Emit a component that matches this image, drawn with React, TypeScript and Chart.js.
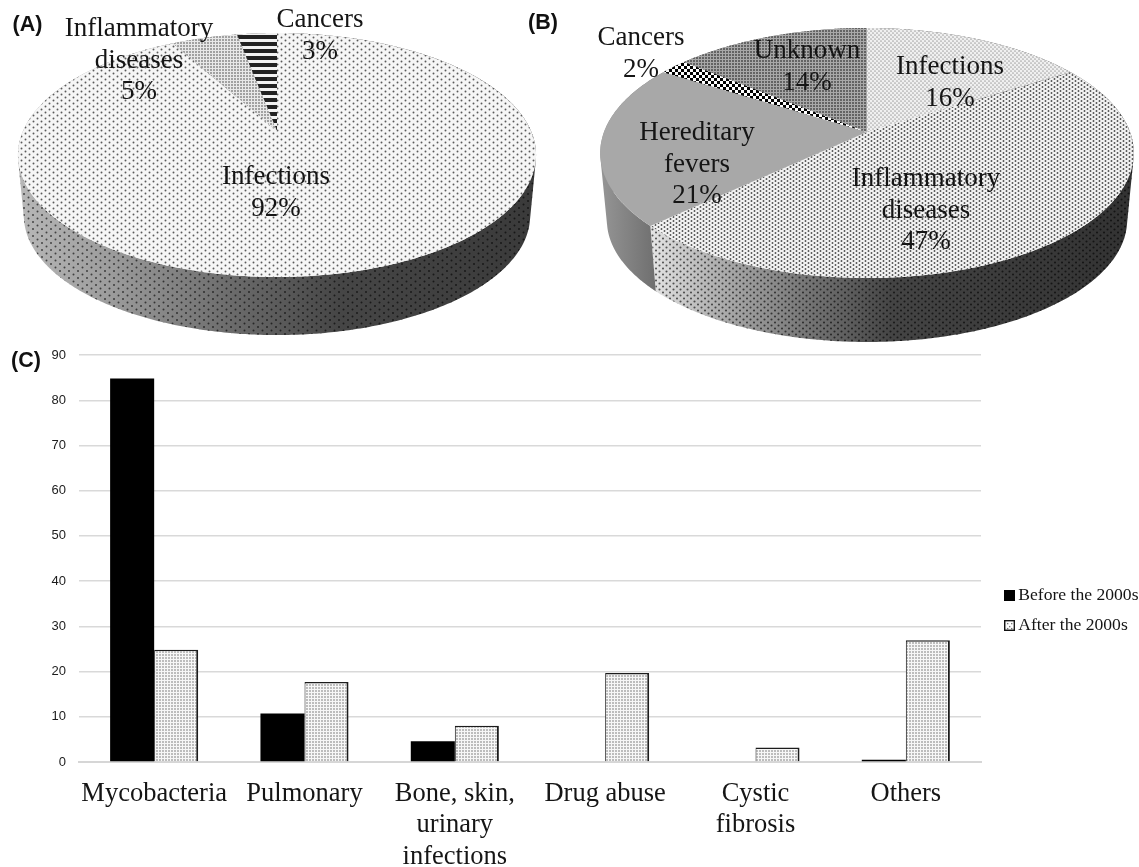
import React, { useEffect, useRef } from "react";
import { Chart, registerables } from "chart.js";

Chart.register(...registerables);

// ---- data ----
const pieACategories = [["Infections"], ["Inflammatory", "diseases"], ["Cancers"]];
const pieAValues = [92, 5, 3];
const pieBCategories = [["Infections"], ["Inflammatory", "diseases"], ["Hereditary", "fevers"], ["Cancers"], ["Unknown"]];
const pieBValues = [16, 47, 21, 2, 14];
const barCategories = ["Mycobacteria", "Pulmonary", ["Bone, skin,", "urinary", "infections"], "Drug abuse", ["Cystic", "fibrosis"], "Others"];
const beforeValues = [84.8, 10.7, 4.6, 0, 0, 0.5];
const afterValues = [24.8, 17.7, 8, 19.7, 3.2, 26.9];
const seriesNames = ["Before the 2000s", "After the 2000s"];

// ---- styling helpers ----
const SERIF = '"Liberation Serif"';
const SANS = '"Liberation Sans"';
const INK = "#151515";

function tile(w: number, h: number, paint: (c: CanvasRenderingContext2D) => void) {
  const cv = document.createElement("canvas");
  cv.width = w;
  cv.height = h;
  paint(cv.getContext("2d")!);
  return cv;
}
function dots(w: number, h: number, bg: string | null, ink: string, pts: number[][], size: number) {
  return tile(w, h, (c) => {
    if (bg) {
      c.fillStyle = bg;
      c.fillRect(0, 0, w, h);
    }
    c.fillStyle = ink;
    pts.forEach(([x, y]) => {
      c.beginPath();
      c.arc(x, y, size, 0, Math.PI * 2);
      c.fill();
    });
  });
}

type Geo = { cx: number; y0: number; a: number; b: number; k: number };
const project = (g: Geo, t: number) => {
  const u = Math.cos(t);
  const v = Math.sin(t);
  const w = 1 - g.k * v;
  return [g.cx + (g.a * u) / w, g.y0 + (g.b * v) / w];
};
type WallStyle = { stops: [number, string][]; x0: number; x1: number; dots?: HTMLCanvasElement | null };
type PieCfg = {
  geo: Geo;
  base: Geo;
  faces: any[];
  walls: WallStyle[];
  categories: string[][];
  anchors: { x: number; y: number }[];
  tag: { text: string; x: number; y: number };
};

function perspectivePie(cfg: PieCfg) {
  return {
    id: "perspectivePie",
    afterDatasetsDraw(chart: any) {
      const { ctx } = chart;
      const arcs = chart.getDatasetMeta(0).data;
      const sample = (g: Geo, s: number, e: number) => {
        const n = Math.max(2, Math.ceil((e - s) / 0.01));
        const out: number[][] = [];
        for (let i = 0; i <= n; i++) out.push(project(g, s + ((e - s) * i) / n));
        return out;
      };
      ctx.save();
      // side walls first: one consistently wound quad per angle step, so the union has no holes
      arcs.forEach((arc: any, i: number) => {
        const { startAngle: s, endAngle: e } = arc;
        const top = sample(cfg.geo, s, e);
        const bot = sample(cfg.base, s, e);
        const path = new Path2D();
        for (let j = 0; j + 1 < top.length; j++) {
          const q = [top[j], top[j + 1], bot[j + 1], bot[j]];
          let area = 0;
          q.forEach((p, m) => {
            const r = q[(m + 1) % 4];
            area += p[0] * r[1] - r[0] * p[1];
          });
          if (area < 0) q.reverse();
          q.forEach(([x, y], m) => (m ? path.lineTo(x, y) : path.moveTo(x, y)));
          path.closePath();
        }
        const st = cfg.walls[i];
        const grad = ctx.createLinearGradient(st.x0, 0, st.x1, 0);
        st.stops.forEach(([o, col]) => grad.addColorStop(o, col));
        ctx.fillStyle = grad;
        ctx.fill(path);
        if (st.dots) {
          ctx.fillStyle = ctx.createPattern(st.dots, "repeat");
          ctx.fill(path);
        }
      });
      arcs.forEach((arc: any, i: number) => {
        const { startAngle: s, endAngle: e } = arc;
        const path = new Path2D();
        path.moveTo(cfg.geo.cx, cfg.geo.y0);
        sample(cfg.geo, s, e).forEach(([x, y]) => path.lineTo(x, y));
        path.closePath();
        const f = cfg.faces[i];
        ctx.fillStyle = typeof f === "string" ? f : ctx.createPattern(f, "repeat");
        ctx.fill(path);
      });
      // slice labels
      ctx.fillStyle = INK;
      ctx.textAlign = "center";
      ctx.textBaseline = "alphabetic";
      ctx.font = `27px ${SERIF}`;
      const values = chart.data.datasets[0].data;
      cfg.categories.forEach((lines, i) => {
        [...lines, `${values[i]}%`].forEach((ln, j) => {
          ctx.fillText(ln, cfg.anchors[i].x, cfg.anchors[i].y + j * 31.5);
        });
      });
      ctx.textAlign = "left";
      ctx.font = `bold 21.5px ${SANS}`;
      ctx.fillStyle = "#111";
      ctx.fillText(cfg.tag.text, cfg.tag.x, cfg.tag.y);
      ctx.restore();
    },
  };
}

function pieConfig(values: number[], names: string[][], cfg: PieCfg): any {
  return {
    type: "pie",
    data: {
      labels: names.map((n) => n.join(" ")),
      datasets: [{ data: values, backgroundColor: "rgba(0,0,0,0)", borderWidth: 0 }],
    },
    options: {
      animation: false,
      responsive: false,
      events: [],
      plugins: { legend: { display: false }, tooltip: { enabled: false } },
    },
    plugins: [perspectivePie(cfg)],
  };
}

const CV: React.CSSProperties = { position: "absolute", left: 0, top: 0, width: 1139, height: 867, filter: "blur(0.35px)" };

export default function App() {
  const a = useRef<HTMLCanvasElement>(null);
  const b = useRef<HTMLCanvasElement>(null);
  const c = useRef<HTMLCanvasElement>(null);

  useEffect(() => {
    document.body.style.margin = "0";
    document.body.style.background = "#fff";

    const wallDots = dots(9, 7, null, "rgba(0,0,0,0.62)", [[1.5, 1.5], [6, 5]], 1);
    const wallDotsDense = dots(7, 6, null, "rgba(0,0,0,0.62)", [[1.5, 1.5], [5, 4.5]], 1.05);

    const geoA: Geo = { cx: 277, y0: 131, a: 254, b: 117.3, k: 0.1967 };
    const baseA: Geo = { cx: 277, y0: 192.4, a: 254 * 0.977, b: 117.3 * 0.977, k: 0.1967 };
    const cfgA: PieCfg = {
      geo: geoA,
      base: baseA,
      faces: [
        dots(8, 6, "#f6f6f6", "#5a5a5a", [[1.5, 1.5], [5.5, 4.5]], 0.95),
        dots(3, 3, "#e8e8e8", "#8a8a8a", [[1, 1]], 1),
        tile(4, 7, (x) => {
          x.fillStyle = "#f2f2f2";
          x.fillRect(0, 0, 4, 7);
          x.fillStyle = "#222";
          x.fillRect(0, 0, 4, 4);
        }),
      ],
      walls: [
        { x0: 18, x1: 536, stops: [[0, "#b8b8b8"], [0.18, "#9c9c9c"], [0.42, "#6a6a6a"], [0.62, "#464646"], [1, "#3a3a3a"]], dots: wallDots },
        { x0: 18, x1: 536, stops: [[0, "#999"], [1, "#999"]] },
        { x0: 18, x1: 536, stops: [[0, "#555"], [1, "#555"]] },
      ],
      categories: pieACategories,
      anchors: [{ x: 276, y: 184 }, { x: 139, y: 36 }, { x: 320, y: 27 }],
      tag: { text: "(A)", x: 12.5, y: 31 },
    };

    const geoB: Geo = { cx: 867, y0: 132, a: 263, b: 121.5, k: 0.168 };
    const baseB: Geo = { cx: 867, y0: 199.6, a: 263 * 0.975, b: 121.5 * 0.975, k: 0.168 };
    const cfgB: PieCfg = {
      geo: geoB,
      base: baseB,
      faces: [
        dots(4, 4, "#f0f0f0", "#a8a8a8", [[1, 1], [3, 3]], 0.85),
        dots(6, 4, "#f2f2f2", "#505050", [[1.5, 1], [4.5, 3]], 0.95),
        "#a8a8a8",
        tile(6, 6, (x) => {
          x.fillStyle = "#fff";
          x.fillRect(0, 0, 6, 6);
          x.fillStyle = "#000";
          x.fillRect(0, 0, 3, 3);
          x.fillRect(3, 3, 3, 3);
        }),
        dots(3, 3, "#a8a8a8", "#4c4c4c", [[1, 1]], 1),
      ],
      walls: [
        { x0: 900, x1: 1134, stops: [[0, "#444"], [1, "#333"]] },
        { x0: 652, x1: 1134, stops: [[0, "#e4e4e4"], [0.12, "#b4b4b4"], [0.3, "#7c7c7c"], [0.5, "#444"], [1, "#323232"]], dots: wallDotsDense },
        { x0: 600, x1: 657, stops: [[0, "#969696"], [1, "#6e6e6e"]] },
        { x0: 600, x1: 657, stops: [[0, "#777"], [1, "#777"]] },
        { x0: 600, x1: 657, stops: [[0, "#777"], [1, "#777"]] },
      ],
      categories: pieBCategories,
      anchors: [{ x: 950, y: 74 }, { x: 926, y: 186 }, { x: 697, y: 140 }, { x: 641, y: 45 }, { x: 807, y: 58 }],
      tag: { text: "(B)", x: 528, y: 29 },
    };

    const chartA = new Chart(a.current!, pieConfig(pieAValues, pieACategories, cfgA));
    const chartB = new Chart(b.current!, pieConfig(pieBValues, pieBCategories, cfgB));

    const barDots = dots(3, 3, "#f7f7f7", "#666", [[1, 1]], 0.75);
    const swatchBefore = tile(11, 11, (x) => {
      x.fillStyle = "#000";
      x.fillRect(0, 0, 11, 11);
    });
    const swatchAfter = tile(11, 11, (x) => {
      x.fillStyle = "#fff";
      x.fillRect(0, 0, 11, 11);
      x.fillStyle = "#666";
      [[3, 3], [7, 3], [5, 6], [3, 8], [7, 8]].forEach(([px, py]) => x.fillRect(px, py, 1.3, 1.3));
      x.strokeStyle = "#111";
      x.lineWidth = 1.4;
      x.strokeRect(0.7, 0.7, 9.6, 9.6);
    });

    const chartC = new Chart(c.current!, {
      type: "bar",
      data: {
        labels: barCategories as any,
        datasets: [
          { label: seriesNames[0], data: beforeValues, backgroundColor: "#000", borderWidth: 0 },
          {
            label: seriesNames[1],
            data: afterValues,
            backgroundColor: c.current!.getContext("2d")!.createPattern(barDots, "repeat") as any,
            borderColor: "#1c1c1c",
            borderWidth: { top: 1.5, left: 1, right: 2, bottom: 0 },
          },
        ],
      },
      options: {
        animation: false,
        responsive: false,
        events: [],
        layout: { padding: { left: 0, top: 355, right: 158, bottom: 0 } },
        datasets: { bar: { categoryPercentage: 0.586, barPercentage: 1 } },
        scales: {
          x: {
            grid: { display: false, drawTicks: false },
            border: { color: "#d6d6d6", width: 2 },
            afterFit: (s: any) => {
              s.height = 105;
            },
            ticks: {
              autoSkip: false,
              maxRotation: 0,
              minRotation: 0,
              padding: 16,
              color: INK,
              font: { family: SERIF, size: 26.5, lineHeight: 1.19 },
            },
          },
          y: {
            min: 0,
            max: 90,
            afterFit: (s: any) => {
              s.width = 79;
            },
            grid: { color: "#d9d9d9", lineWidth: 1.4, drawTicks: false },
            border: { display: false },
            ticks: { stepSize: 10, padding: 13, color: "#1c1c1c", font: { family: SANS, size: 13 } },
          },
        },
        plugins: {
          tooltip: { enabled: false },
          legend: {
            position: "chartArea" as any,
            align: "start",
            labels: {
              usePointStyle: true,
              boxWidth: 0.01,
              padding: 12,
              color: INK,
              font: { family: SERIF, size: 17.6 },
              generateLabels: (ch: any) =>
                Chart.defaults.plugins.legend.labels.generateLabels(ch).map((it: any, i: number) => ({
                  ...it,
                  pointStyle: i === 0 ? swatchBefore : swatchAfter,
                })),
            },
          },
        },
      },
      plugins: [
        {
          id: "placeLegendAndTag",
          afterLayout(ch: any) {
            ch.legend.left = 997.5;
            ch.legend.right = 1139;
            ch.legend.top = 575;
            ch.legend.bottom = 680;
          },
          afterDraw(ch: any) {
            const x = ch.ctx;
            x.save();
            x.fillStyle = "#111";
            x.font = `bold 21.5px ${SANS}`;
            x.textAlign = "left";
            x.textBaseline = "alphabetic";
            x.fillText("(C)", 11, 367);
            x.restore();
          },
        },
      ] as any,
    });

    return () => {
      chartA.destroy();
      chartB.destroy();
      chartC.destroy();
    };
  }, []);

  return (
    <div style={{ position: "relative", width: 1139, height: 867, overflow: "hidden" }}>
      <canvas ref={a} width={1139} height={867} style={CV} />
      <canvas ref={b} width={1139} height={867} style={CV} />
      <canvas ref={c} width={1139} height={867} style={CV} />
    </div>
  );
}
